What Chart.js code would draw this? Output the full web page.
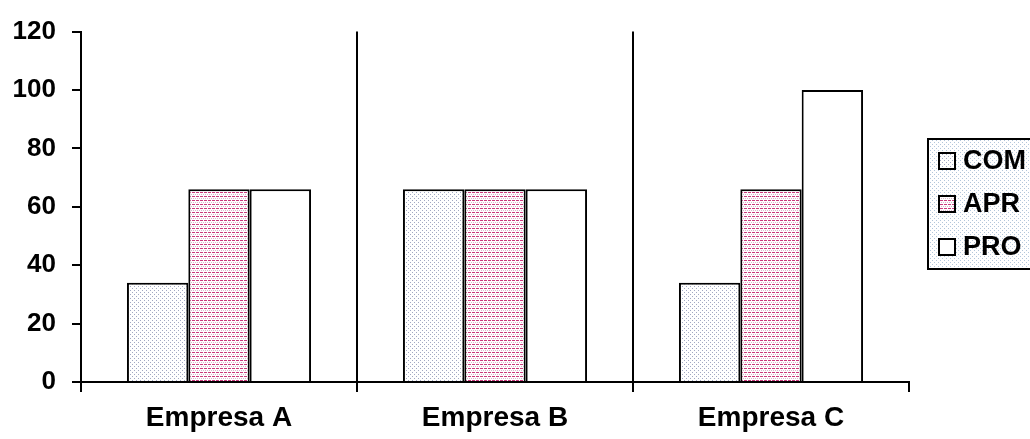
<!DOCTYPE html>
<html lang="es">
<head>
    <meta charset="UTF-8">
    <title>Empresas</title>
    <script src="https://cdn.jsdelivr.net/npm/chart.js@4.4.1/dist/chart.umd.min.js"></script>
    <style>
        html, body { margin: 0; padding: 0; background: #fff; }
        #wrap { width: 1030px; height: 439px; }
    </style>
</head>
<body>
    <div id="wrap"><canvas id="chart" width="1030" height="439"></canvas></div>
    <script>
        const categories = ['Empresa A', 'Empresa B', 'Empresa C'];
        const seriesNames = ['COM', 'APR', 'PRO'];
        const comValues = [34, 66, 34];
        const aprValues = [66, 66, 66];
        const proValues = [66, 66, 100];
        const yMin = 0, yMax = 120, yStep = 20;

        // small tiles used as fill patterns
        function makePattern(size, draw) {
            const c = document.createElement('canvas');
            c.width = size; c.height = size;
            const g = c.getContext('2d');
            g.fillStyle = '#fff';
            g.fillRect(0, 0, size, size);
            draw(g);
            return document.getElementById('chart').getContext('2d').createPattern(c, 'repeat');
        }
        const dotFill = makePattern(4, g => {
            g.fillStyle = '#a2a8c2';
            g.fillRect(0, 0, 1, 1);
            g.fillRect(2, 2, 1, 1);
        });
        const stripeFill = makePattern(4, g => {
            g.fillStyle = '#c93a7c';
            g.fillRect(0, 0, 3, 1);
            g.fillStyle = '#d8b8cc';
            g.fillRect(1, 2, 1, 1);
            g.fillRect(3, 2, 1, 1);
        });
        const legendFill = makePattern(4, g => {
            g.fillStyle = '#b3c6da';
            g.fillRect(0, 0, 1, 1);
            g.fillRect(2, 2, 1, 1);
        });

        const fontFamily = '"Liberation Sans", Arial, sans-serif';

        // boxed legend at the right, partly cut by the page edge
        const boxLegend = {
            id: 'boxLegend',
            afterDraw(chart) {
                const ctx = chart.ctx;
                const x = 928, y = 139, w = 130, h = 130;
                ctx.save();
                ctx.fillStyle = legendFill;
                ctx.fillRect(x, y, w, h);
                ctx.lineWidth = 2;
                ctx.strokeStyle = '#000';
                ctx.strokeRect(x, y, w, h);
                ctx.font = 'bold 27px ' + fontFamily;
                ctx.textBaseline = 'middle';
                chart.data.datasets.forEach((ds, i) => {
                    const cy = y + 22 + i * 43;
                    ctx.fillStyle = ds.backgroundColor;
                    ctx.fillRect(939, cy - 8, 16, 16);
                    ctx.lineWidth = 2;
                    ctx.strokeStyle = '#000';
                    ctx.strokeRect(939, cy - 8, 16, 16);
                    ctx.fillStyle = '#000';
                    ctx.fillText(ds.label, 963, cy + 1);
                });
                ctx.restore();
            }
        };

        const ctx = document.getElementById('chart').getContext('2d');
        const myChart = new Chart(ctx, {
            type: 'bar',
            data: {
                labels: categories,
                datasets: [
                    { label: seriesNames[0], data: comValues, backgroundColor: dotFill },
                    { label: seriesNames[1], data: aprValues, backgroundColor: stripeFill },
                    { label: seriesNames[2], data: proValues, backgroundColor: '#fff' }
                ]
            },
            options: {
                responsive: false,
                animation: false,
                layout: { padding: { top: 29, right: 121, left: 0, bottom: 0 } },
                datasets: {
                    bar: {
                        borderColor: '#000',
                        borderWidth: 2,
                        categoryPercentage: 0.667,
                        barPercentage: 1.0
                    }
                },
                plugins: {
                    legend: { display: false },
                    tooltip: { enabled: false }
                },
                scales: {
                    x: {
                        afterFit: s => { s.height = 57; },
                        grid: {
                            offset: true,
                            lineWidth: 2,
                            color: c => (c.type === 'tick' ? '#000' : 'rgba(0,0,0,0)'),
                            tickColor: '#000',
                            tickLength: 10
                        },
                        border: { display: true, color: '#000', width: 2 },
                        ticks: {
                            color: '#000',
                            maxRotation: 0,
                            padding: 9,
                            font: { family: fontFamily, size: 28, weight: 'bold' }
                        }
                    },
                    y: {
                        min: yMin,
                        max: yMax,
                        afterFit: s => { s.width = 81; },
                        grid: {
                            drawOnChartArea: false,
                            lineWidth: 2,
                            color: '#000',
                            tickLength: 9
                        },
                        border: { display: true, color: '#000', width: 2 },
                        ticks: {
                            stepSize: yStep,
                            color: '#000',
                            padding: 16,
                            font: { family: fontFamily, size: 26, weight: 'bold' }
                        }
                    }
                }
            },
            plugins: [boxLegend]
        });
    </script>
</body>
</html>
